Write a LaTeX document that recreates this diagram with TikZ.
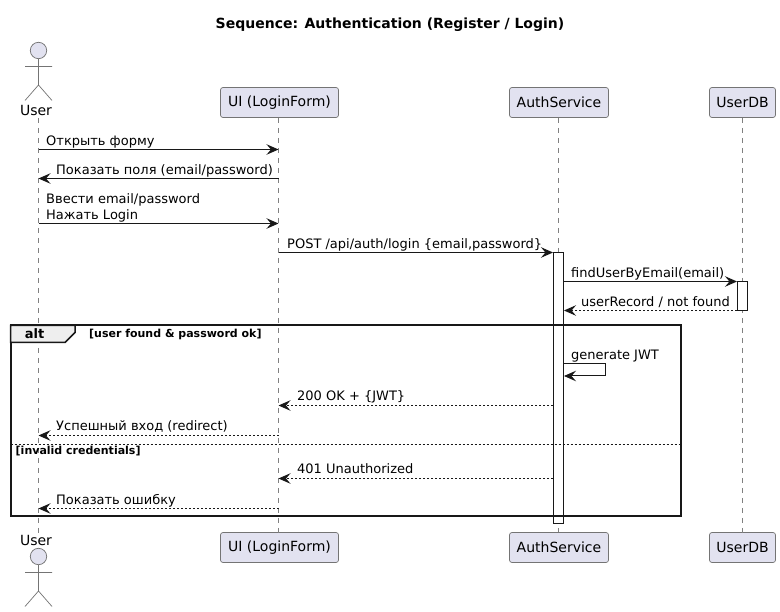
\documentclass[tikz,border=0pt]{standalone}
\usepackage{fontspec}
\setmainfont{DejaVu Sans}
\usetikzlibrary{arrows.meta}
\definecolor{ink}{HTML}{181818}
\definecolor{partfill}{HTML}{E2E2F0}
\definecolor{tabfill}{HTML}{EEEEEE}
\newcommand{\tsize}{\fontsize{13}{15}\selectfont}
\newcommand{\psize}{\fontsize{14}{16}\selectfont}
\newcommand{\csize}{\fontsize{11}{13}\selectfont\bfseries}
\tikzset{
  part/.style={draw=ink!60,line width=0.7pt,fill=partfill,rounded corners=2.5pt,minimum height=30pt,inner sep=0pt,text=black,font=\psize},
  actorshape/.style={draw=ink!60,line width=0.7pt},
  actorhead/.style={draw=ink!60,line width=0.7pt,fill=partfill},
  actorlabel/.style={font=\psize,inner sep=0pt,text=black},
  life/.style={draw=ink!55,line width=0.6pt,dash pattern=on 5pt off 5pt},
  sync/.style={draw=ink,line width=1pt,-{Stealth[length=12pt,width=10.5pt,inset=4.5pt]}},
  reply/.style={sync,dash pattern=on 2pt off 2pt},
  msglabel/.style={font=\tsize,inner sep=0pt,anchor=base west,text=black},
  activation/.style={draw=ink,line width=1pt,fill=white},
  framebox/.style={draw=ink,line width=2pt},
  cond/.style={font=\csize,inner sep=0pt,anchor=base west,text=black},
}
\begin{document}
\begin{tikzpicture}[x=1pt,y=-1pt]
\useasboundingbox (0,0) rectangle (780,612);
\fill[white] (0,0) rectangle (780,612);
\node[font=\fontsize{14}{16}\selectfont\bfseries,inner sep=0pt,anchor=base] (title) at (390,29) {Sequence: Authentication (Register / Login)};
% participants
\node[actorlabel,anchor=base] (userT) at (36,115.5) {User};
\node[part,minimum width=118pt] (uiT) at (279.5,102.5) {UI (LoginForm)};
\node[part,minimum width=99pt] (authT) at (559,102.5) {AuthService};
\node[part,minimum width=66pt] (dbT) at (742.5,102.5) {UserDB};
\node[actorlabel,anchor=base] (userB) at (36,545) {User};
\node[part,minimum width=118pt] (uiB) at (279.5,547.5) {UI (LoginForm)};
\node[part,minimum width=99pt] (authB) at (559,547.5) {AuthService};
\node[part,minimum width=66pt] (dbB) at (742.5,547.5) {UserDB};
% lifeline positions
\coordinate (lu) at (38.5,118);
\coordinate (lub) at (38.5,533);
\coordinate (li) at (278.5,118);
\coordinate (lib) at (278.5,533);
\coordinate (la) at (558.5,118);
\coordinate (lab) at (558.5,532);
\coordinate (ld) at (742.5,118);
\coordinate (ldb) at (742.5,533);
\draw[life] (lu) -- (lub);
\draw[life] (li) -- (lib);
\draw[life] (la) -- (lab);
\draw[life] (ld) -- (ldb);
% actors
\draw[actorhead] (38.5,50.5) circle (8.2);
\draw[actorshape] (38.5,59) -- (38.5,85) (25,66.5) -- (52,66.5) (25,100.5) -- (38.5,85) -- (52,100.5);
\draw[actorhead] (38.5,556.5) circle (8.2);
\draw[actorshape] (38.5,565) -- (38.5,591) (25,572.5) -- (52,572.5) (25,606.5) -- (38.5,591) -- (52,606.5);
% activations
\node[activation,minimum width=10pt,minimum height=271pt,inner sep=0pt] (actA) at (558.5,388) {};
\node[activation,minimum width=10pt,minimum height=29pt,inner sep=0pt] (actD) at (742.5,296) {};
% frame
\draw[framebox] (10.5,325.5) rectangle (680.5,516.5);
\draw[line width=1.5pt,draw=ink,fill=tabfill] (10.5,325.5) -- (75,325.5) -- (75,332.5) -- (65,342.5) -- (10.5,342.5) -- cycle;
\node[font=\fontsize{13}{15}\selectfont\bfseries,inner sep=0pt,anchor=base] (altL) at (34.5,339) {alt};
\node[cond] (c1) at (89,338) {[user found \& password ok]};
\draw[draw=ink,line width=0.8pt,dash pattern=on 2pt off 2pt] (10.5,444.5) -- (680.5,444.5);
\node[cond] (c2) at (15.5,454.5) {[invalid credentials]};
% messages
\draw[sync] (lu |- 0,149.5) -- (li |- 0,149.5);
\node[msglabel] (m1) at (46,146) {Открыть форму};
\draw[sync] (li |- 0,178.5) -- (lu |- 0,178.5);
\node[msglabel] (m2) at (56,174.5) {Показать поля (email/password)};
\draw[sync] (lu |- 0,223.5) -- (li |- 0,223.5);
\node[msglabel] (m3a) at (46,204) {Ввести email/password};
\node[msglabel] (m3b) at (46,219.5) {Нажать Login};
\draw[sync] (li |- 0,252.5) -- (actA.west |- 0,252.5);
\node[msglabel] (m4) at (287,248.5) {POST /api/auth/login \{email,password\}};
\draw[sync] (actA.east |- 0,281.5) -- (actD.west |- 0,281.5);
\node[msglabel] (m5) at (571,277.5) {findUserByEmail(email)};
\draw[reply] (actD.west |- 0,310.5) -- (actA.east |- 0,310.5);
\node[msglabel] (m6) at (581,306.5) {userRecord / not found};
\draw[draw=ink,line width=1pt,-{Stealth[length=12pt,width=10.5pt,inset=4.5pt]}] (actA.east |- 0,363.5) -- (605.5,363.5) -- (605.5,376) -- (actA.east |- 0,376);
\node[msglabel] (m7) at (571,359.5) {generate JWT};
\draw[reply] (actA.west |- 0,405.5) -- (li |- 0,405.5);
\node[msglabel] (m8) at (297,401) {200 OK + \{JWT\}};
\draw[reply] (li |- 0,435.5) -- (lu |- 0,435.5);
\node[msglabel] (m9) at (56,431) {Успешный вход (redirect)};
\draw[reply] (actA.west |- 0,478.5) -- (li |- 0,478.5);
\node[msglabel] (m10) at (297,474) {401 Unauthorized};
\draw[reply] (li |- 0,508.5) -- (lu |- 0,508.5);
\node[msglabel] (m11) at (56,504) {Показать ошибку};
\end{tikzpicture}
\end{document}
